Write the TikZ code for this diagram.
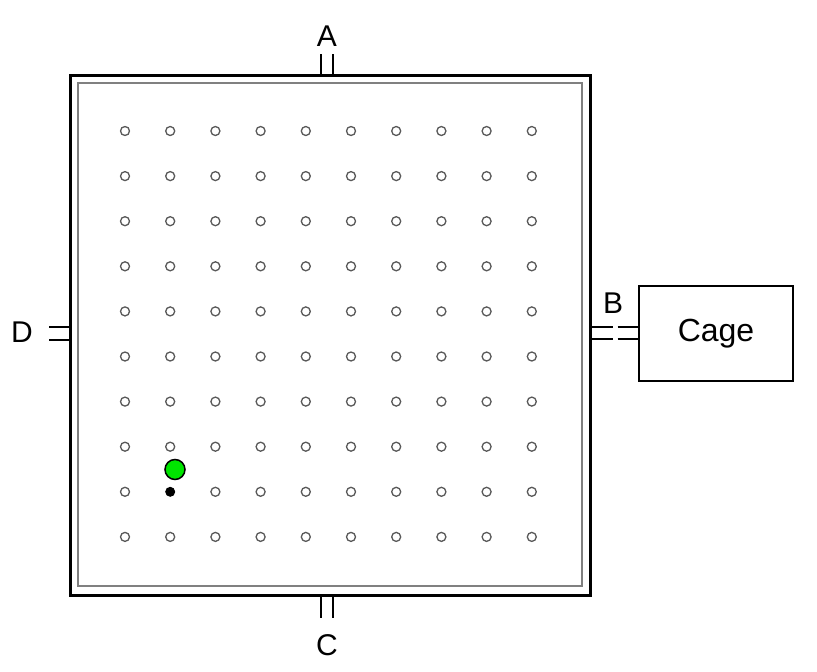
\documentclass[tikz,border=0pt]{standalone}
\usepackage{fontspec}
\setmainfont{Liberation Sans}
\usetikzlibrary{positioning}

\begin{document}
\begin{tikzpicture}[x=1pt,y=-1pt,
    every node/.style = {font = \fontsize{30}{36}\selectfont},
    arena/.style  = {draw, line width=3pt, minimum width=520pt, minimum height=520pt, inner sep=0pt},
    rim/.style    = {draw=black!50, line width=1.8pt, minimum width=504pt, minimum height=503pt, inner sep=0pt},
    cagebox/.style= {draw, line width=1.5pt, minimum width=154pt, minimum height=95pt, font=\fontsize{32}{38}\selectfont},
    door/.style   = {line width=2pt},
    hole/.style   = {draw=black!65, line width=1.3pt, fill=white, circle, minimum size=9pt, inner sep=0pt},
  ]
  \useasboundingbox (0,0) rectangle (817,672);
  \node[arena] (arena) at (330,335) {};
  \node[rim] (rim) at (330,334.5) {};
  \node[cagebox] (cage) at (716,333.5) {Cage};
  % labels of the doors
  \node (labA) at (327,36) {A};
  \node (labB) at (613,303) {B};
  \node (labC) at (327,645) {C};
  \node (labD) at (22,332) {D};
  % doors
  \draw[door] ([xshift=-9pt]arena.north) -- ++(0,-20);
  \draw[door] ([xshift=3pt]arena.north) -- ++(0,-20);
  \draw[door] ([xshift=-9pt]arena.south) -- ++(0,21);
  \draw[door] ([xshift=3pt]arena.south) -- ++(0,21);
  \draw[door] ([yshift=8pt]arena.west) -- ++(-20,0);
  \draw[door] ([yshift=-5pt]arena.west) -- ++(-20,0);
  \draw[door, dash pattern=on 21pt off 5pt on 40pt off 0pt] ([yshift=8pt]arena.east) -- ([yshift=8pt]arena.east -| cage.west);
  \draw[door, dash pattern=on 21pt off 5pt on 40pt off 0pt] ([yshift=-4pt]arena.east) -- ([yshift=-4pt]arena.east -| cage.west);
  % holes
  \foreach \i in {0,...,9}
    \foreach \j in {0,...,9} {
      \ifnum\i=1 \ifnum\j=8 \else
        \node[hole] (h-\i-\j) at (125+45.2*\i, 131+45.1*\j) {};
      \fi \else
        \node[hole] (h-\i-\j) at (125+45.2*\i, 131+45.1*\j) {};
      \fi
    }
  \node[circle, fill=black, minimum size=10pt, inner sep=0pt] (dot) at (170.2,491.8) {};
  \node[circle, draw, line width=1.5pt, fill=green!90!black, minimum size=20pt, inner sep=0pt] (mouse) at (175,469.5) {};
\end{tikzpicture}
\end{document}
